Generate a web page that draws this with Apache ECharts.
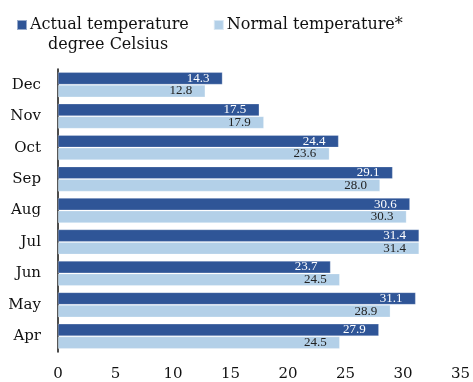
<!DOCTYPE html>
<html>
<head>
<meta charset="utf-8">
<script src="https://cdn.jsdelivr.net/npm/echarts@6/dist/echarts.min.js"></script>
<style>
  html, body { margin: 0; padding: 0; background: #fff; }
  #chart { width: 473px; height: 382px; }
</style>
</head>
<body>
<div id="chart"></div>
<script>
// months, top to bottom
const months = ['Dec', 'Nov', 'Oct', 'Sep', 'Aug', 'Jul', 'Jun', 'May', 'Apr'];
const actualTemp = [14.3, 17.5, 24.4, 29.1, 30.6, 31.4, 23.7, 31.1, 27.9];
const normalTemp = [12.8, 17.9, 23.6, 28.0, 30.3, 31.4, 24.5, 28.9, 24.5];
const xTicks = [0, 5, 10, 15, 20, 25, 30, 35];

const serif = '"DejaVu Serif", "Liberation Serif", serif';
const labelSerif = '"Liberation Serif", serif';

let myChart = echarts.init(document.getElementById('chart'));
myChart.setOption({
    animation: false,
    textStyle: { fontFamily: serif },
    grid: { left: 58, right: 12, top: 69, bottom: 30, containLabel: false },
    legend: {
        left: 16,
        top: 17,
        padding: 0,
        itemWidth: 10,
        itemHeight: 10,
        itemGap: 24,
        icon: 'rect',
        textStyle: { fontFamily: serif, fontSize: 16, color: '#111', padding: [0, 0, 0, -2] },
        data: ['Actual temperature', 'Normal temperature*']
    },
    graphic: [{
        type: 'text',
        left: 48,
        top: 37,
        style: { text: 'degree Celsius', font: '16px ' + serif, fill: '#111' }
    }],
    xAxis: {
        type: 'value',
        min: xTicks[0],
        max: xTicks[xTicks.length - 1],
        interval: 5,
        axisLine: { show: false },
        axisTick: { show: false },
        splitLine: { show: false },
        axisLabel: { fontSize: 15, color: '#111', margin: 15 }
    },
    yAxis: {
        type: 'category',
        inverse: true,
        data: months,
        axisLine: { show: true, lineStyle: { color: '#111', width: 1.5 } },
        axisTick: { show: false },
        axisLabel: { fontSize: 15, color: '#111', margin: 17 }
    },
    series: [
        {
            name: 'Actual temperature',
            type: 'bar',
            data: actualTemp,
            barGap: '4%',
            barCategoryGap: '21%',
            itemStyle: { color: '#2F5597', borderColor: 'rgba(255,255,255,0.5)', borderWidth: 0.5 },
            label: {
                show: true,
                position: 'insideRight',
                distance: 13,
                color: '#fff',
                fontSize: 13,
                fontFamily: labelSerif,
                formatter: (p) => p.value.toFixed(1)
            }
        },
        {
            name: 'Normal temperature*',
            type: 'bar',
            data: normalTemp,
            itemStyle: { color: '#B3D0E8', borderColor: 'rgba(255,255,255,0.5)', borderWidth: 0.5 },
            label: {
                show: true,
                position: 'insideRight',
                distance: 13,
                color: '#222',
                fontSize: 13,
                fontFamily: labelSerif,
                formatter: (p) => p.value.toFixed(1)
            }
        }
    ]
});
</script>
</body>
</html>
